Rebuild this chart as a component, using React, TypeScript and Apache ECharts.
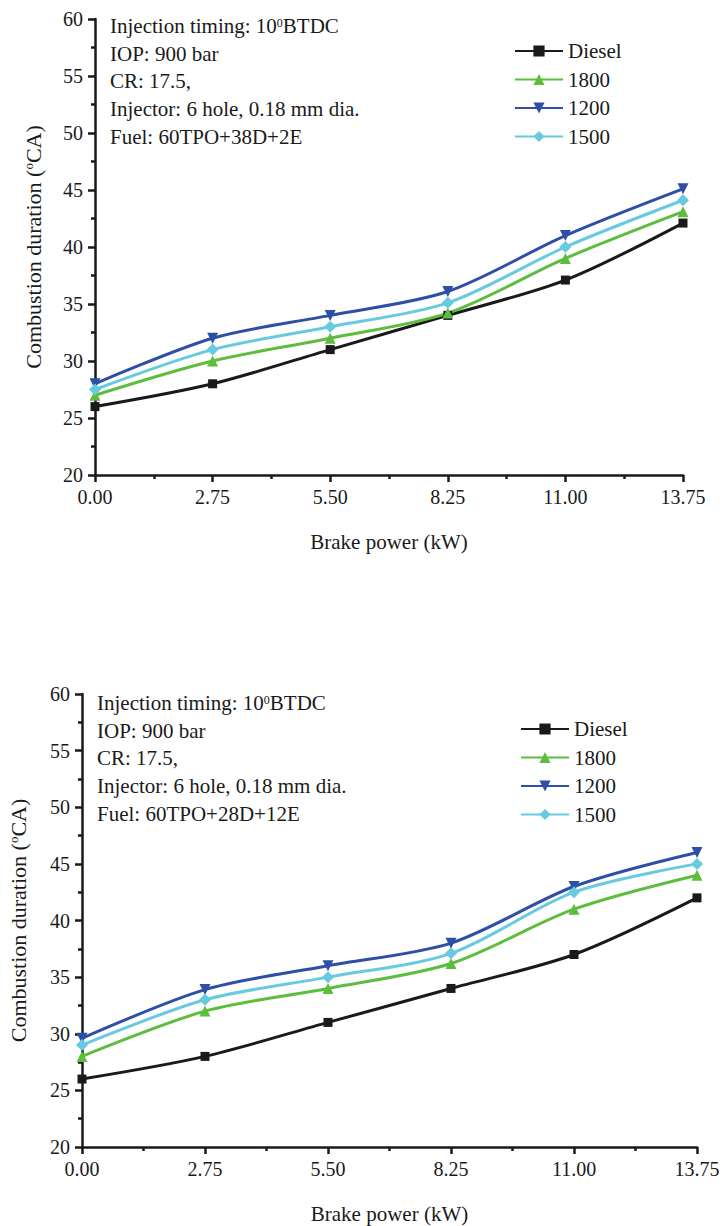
import React, { useEffect, useRef } from "react";
import * as echarts from "echarts";

// ---- data ----
const brakePower = [0, 2.75, 5.5, 8.25, 11, 13.75];
const seriesNames = ["Diesel", "1800", "1200", "1500"];

// top chart: 60TPO+38D+2E
const dieselTop = [26, 28, 31, 34, 37.1, 42.1];
const s1800Top = [27, 30, 32, 34.2, 39, 43.1];
const s1200Top = [28, 32, 34, 36.1, 41, 45.1];
const s1500Top = [27.5, 31, 33, 35.1, 40, 44.1];

// bottom chart: 60TPO+28D+12E
const dieselBottom = [26, 28, 31, 34, 37, 42];
const s1800Bottom = [28, 32, 34, 36.2, 41, 44];
const s1200Bottom = [29.6, 33.9, 36, 38, 43, 46];
const s1500Bottom = [29, 33, 35, 37.1, 42.5, 45];

const yMin = 20;
const yMax = 60;
const yInterval = 5;
const xMin = 0;
const xMax = 13.75;
const xInterval = 2.75;

const fuelTop = "Fuel: 60TPO+38D+2E";
const fuelBottom = "Fuel: 60TPO+28D+12E";

const FONT = "'Liberation Serif', 'Times New Roman', Times, serif";
const INK = "#1a1a1a";

const styles: Record<string, any> = {
  Diesel: { color: "#1a1a1a", symbol: "rect", symbolSize: 9, symbolRotate: 0 },
  "1800": { color: "#5dbd3d", symbol: "triangle", symbolSize: 11, symbolRotate: 0 },
  "1200": { color: "#2f4fa6", symbol: "triangle", symbolSize: 11, symbolRotate: 180 },
  "1500": { color: "#67cade", symbol: "diamond", symbolSize: 12, symbolRotate: 0 },
};

function makeSeries(name: string, values: number[], gridIdx: number) {
  const st = styles[name];
  return {
    name,
    type: "line",
    xAxisIndex: gridIdx,
    yAxisIndex: gridIdx,
    data: brakePower.map((x, i) => [x, values[i]]),
    smooth: 0.3,
    symbol: st.symbol,
    symbolSize: st.symbolSize,
    symbolRotate: st.symbolRotate,
    lineStyle: { color: st.color, width: 3 },
    itemStyle: { color: st.color },
    clip: false,
  };
}

function xAxis(gridIndex: number) {
  return {
    gridIndex,
    type: "value",
    min: xMin,
    max: xMax,
    interval: xInterval,
    axisLine: { show: true, onZero: false, lineStyle: { color: INK, width: 2.5 } },
    axisTick: { show: true, inside: false, length: 7, lineStyle: { color: INK, width: 2.5 } },
    minorTick: { show: true, splitNumber: 2, length: 4, lineStyle: { color: INK, width: 2.5 } },
    splitLine: { show: false },
    minorSplitLine: { show: false },
    axisLabel: {
      fontFamily: FONT,
      fontSize: 20,
      color: INK,
      margin: 12,
      formatter: (v: number) => v.toFixed(2),
    },
    name: "Brake power (kW)",
    nameLocation: "middle",
    nameGap: 56,
    nameTextStyle: { fontFamily: FONT, fontSize: 21, color: INK },
  };
}

function yAxis(gridIndex: number, gap: number) {
  return {
    gridIndex,
    type: "value",
    min: yMin,
    max: yMax,
    interval: yInterval,
    axisLine: { show: true, onZero: false, lineStyle: { color: INK, width: 2.5 } },
    axisTick: { show: true, inside: false, length: 7, lineStyle: { color: INK, width: 2.5 } },
    minorTick: { show: true, splitNumber: 2, length: 4, lineStyle: { color: INK, width: 2.5 } },
    splitLine: { show: false },
    minorSplitLine: { show: false },
    axisLabel: { fontFamily: FONT, fontSize: 20, color: INK, margin: 12 },
    name: "Combustion duration ({sup|o}CA)",
    nameLocation: "middle",
    nameGap: gap,
    nameTextStyle: {
      fontFamily: FONT,
      fontSize: 22,
      color: INK,
      lineHeight: 24,
      rich: {
        sup: { fontFamily: FONT, fontSize: 13, color: INK, verticalAlign: "top", lineHeight: 14, padding: [1, 0, 0, 0] },
      },
    },
  };
}

function legend(left: number, top: number) {
  return {
    data: seriesNames,
    orient: "vertical",
    left,
    top,
    itemWidth: 48,
    itemHeight: 14,
    itemGap: 6.5,
    textStyle: { fontFamily: FONT, fontSize: 21, color: INK, lineHeight: 22 },
  };
}

function note(left: number, top: number, fuel: string) {
  const lines = [
    "Injection timing: 10{sup|0}BTDC",
    "IOP: 900 bar",
    "CR: 17.5,",
    "Injector: 6 hole, 0.18 mm dia.",
    fuel,
  ];
  return {
    type: "text",
    left,
    top,
    style: {
      text: lines.join("\n"),
      fontFamily: FONT,
      fontSize: 21,
      lineHeight: 27.7,
      fill: INK,
      rich: {
        sup: { fontFamily: FONT, fontSize: 12, fill: INK, verticalAlign: "top", padding: [5, 0, 0, 0] },
      },
    },
  };
}

export default function App() {
  const ref = useRef<HTMLDivElement>(null);

  useEffect(() => {
    if (!ref.current) return;
    const chart = echarts.init(ref.current, undefined, { renderer: "svg" });
    const option: any = {
      animation: false,
      backgroundColor: "#ffffff",
      grid: [
        { left: 95, right: 41, top: 19, height: 456, outerBoundsMode: "none", containLabel: false },
        { left: 82, right: 27, top: 694, height: 453, outerBoundsMode: "none", containLabel: false },
      ],
      xAxis: [xAxis(0), xAxis(1)],
      yAxis: [yAxis(0, 50), yAxis(1, 52)],
      legend: [legend(509, 35), legend(515, 713)],
      graphic: [note(110, 12, fuelTop), note(97, 689, fuelBottom)],
      series: [
        makeSeries("Diesel", dieselTop, 0),
        makeSeries("1800", s1800Top, 0),
        makeSeries("1200", s1200Top, 0),
        makeSeries("1500", s1500Top, 0),
        makeSeries("Diesel", dieselBottom, 1),
        makeSeries("1800", s1800Bottom, 1),
        makeSeries("1200", s1200Bottom, 1),
        makeSeries("1500", s1500Bottom, 1),
      ],
    };
    chart.setOption(option);
    return () => chart.dispose();
  }, []);

  return (
    <div
      ref={ref}
      style={{ position: "absolute", left: 0, top: 0, width: 724, height: 1226, background: "#fff" }}
    />
  );
}
